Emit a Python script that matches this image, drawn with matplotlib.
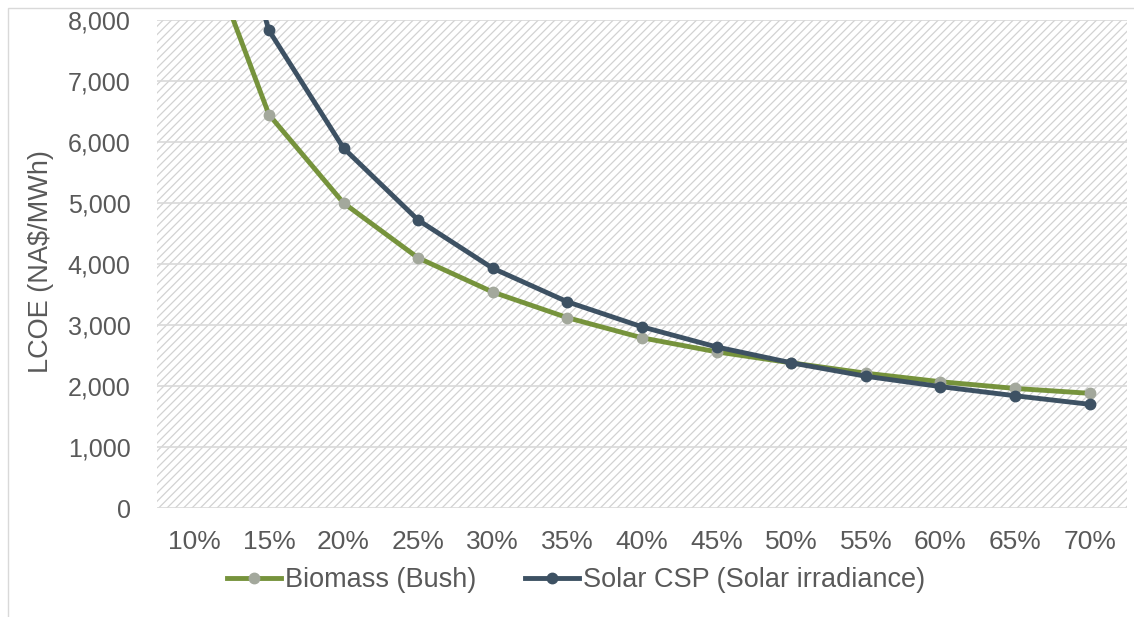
import matplotlib
matplotlib.use("Agg")
import matplotlib.pyplot as plt
from matplotlib.patches import Rectangle
from matplotlib.ticker import FuncFormatter, MultipleLocator

categories = ["10%", "15%", "20%", "25%", "30%", "35%", "40%", "45%", "50%", "55%", "60%", "65%", "70%"]
biomass = [9700, 6450, 5000, 4100, 3540, 3120, 2790, 2560, 2380, 2210, 2070, 1960, 1880]
solar_csp = [12000, 7830, 5900, 4720, 3930, 3380, 2970, 2640, 2380, 2160, 1990, 1840, 1700]

plt.rcParams['font.family'] = ['Liberation Sans', 'DejaVu Sans']
plt.rcParams['hatch.linewidth'] = 0.9
plt.rcParams['hatch.color'] = '#d2d2d2'

fig = plt.figure(figsize=(11.34, 6.17), dpi=100)
ax = fig.add_axes([157/1134, 1-508/617, (1127-157)/1134, (508-20)/617])

x = list(range(len(categories)))
ax.set_xlim(-0.5, len(categories) - 0.5)
ax.set_ylim(0, 8000)

bg = Rectangle((0, 0), 1, 1, transform=ax.transAxes, facecolor='white',
               edgecolor='#d2d2d2', hatch='////', linewidth=0, zorder=0)
ax.add_patch(bg)

ax.yaxis.set_major_locator(MultipleLocator(1000))
ax.grid(axis='y', color='#d9d9d9', linewidth=1.2, zorder=1)
ax.set_axisbelow(True)

ax.plot(x, biomass, color='#76933c', linewidth=3.5, marker='o', markersize=7.5,
        markerfacecolor='#a3a89c', markeredgecolor='#a3a89c', label='Biomass (Bush)', zorder=3)
ax.plot(x, solar_csp, color='#3d5163', linewidth=3.5, marker='o', markersize=7.5,
        markerfacecolor='#3d5163', markeredgecolor='#3d5163', label='Solar CSP (Solar irradiance)', zorder=4)

ax.set_xticks(x)
ax.set_xticklabels(categories)
ax.yaxis.set_major_formatter(FuncFormatter(lambda v, p: f"{int(v):,}"))
ax.tick_params(axis='both', length=0, labelcolor='#595959')
ax.tick_params(axis='x', pad=16, labelsize=19)
ax.tick_params(axis='y', pad=19, labelsize=18)
for s in ax.spines.values():
    s.set_visible(False)

ax.set_ylabel("LCOE (NA$/MWh)", fontsize=19.5, color='#595959')
ax.yaxis.set_label_coords((54-157)/970, (508-262)/488)

leg = fig.legend(loc='center', bbox_to_anchor=(576/1134, 1-580/617), ncol=2, frameon=False,
                 fontsize=19.5, handlelength=2.0, columnspacing=1.8, handletextpad=0.15,
                 labelcolor='#595959')

fig.patches.append(Rectangle((8/1134, -0.1), 1.2, 1-8/617+0.1, transform=fig.transFigure,
                             fill=False, edgecolor='#d9d9d9', linewidth=1))

fig.savefig("out.png", dpi=100)
